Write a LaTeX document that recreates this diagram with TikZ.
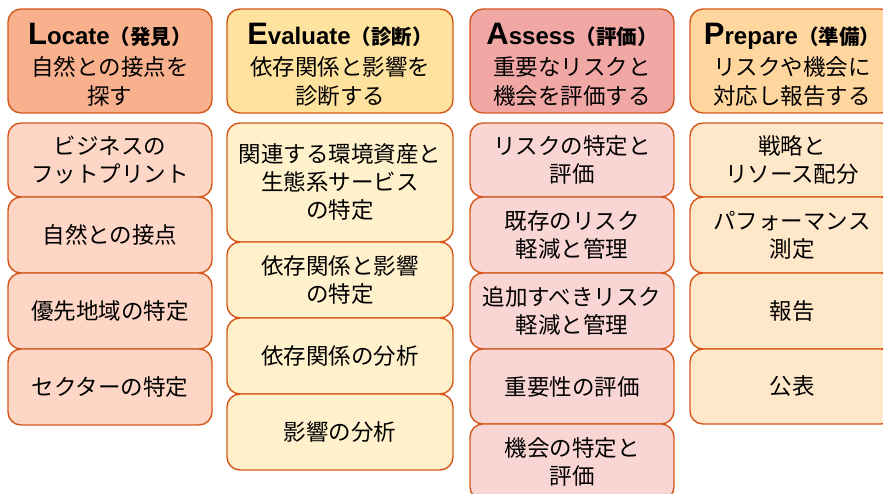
\documentclass[tikz,border=0pt]{standalone}
\usepackage{fontspec}
\setmainfont{Noto Sans CJK JP}
\newfontfamily\lat{Liberation Sans}
\definecolor{bord}{HTML}{D4581C}
\definecolor{hA}{HTML}{F9B18D}
\definecolor{bA}{HTML}{FDD6C5}
\definecolor{hB}{HTML}{FFE29E}
\definecolor{bB}{HTML}{FFF1CC}
\definecolor{hC}{HTML}{F1A8A5}
\definecolor{bC}{HTML}{F9D6D4}
\definecolor{hD}{HTML}{FFD79E}
\definecolor{bD}{HTML}{FFE8C9}
\newcommand\ttl[3]{{\lat\bfseries\fontsize{31}{31}\selectfont #1}{\lat\bfseries\fontsize{24}{24}\selectfont #2}{\bfseries\fontsize{20.5}{20.5}\selectfont （#3）}}
\tikzset{
  cell/.style={draw=bord, line width=1.4pt, rounded corners=13pt, inner sep=0pt,
    align=center, font=\fontsize{22.5}{28}\selectfont},
  hdr/.style={cell, minimum height=104pt},
  htext/.style={inner sep=0pt, align=center, font=\fontsize{22.5}{29}\selectfont},
  wA/.style={minimum width=204pt},
  wB/.style={minimum width=226pt},
}
\begin{document}
\begin{tikzpicture}[x=1pt,y=-1pt]
\useasboundingbox (0,0) rectangle (883,494);
\clip (0,0) rectangle (883,494);
% column 1
\node[hdr,wA,fill=hA] (hL) at (110,61) {};
\node[htext] (hLt) at ([yshift=-4pt]hL.center) {\ttl{L}{ocate}{発見}\\[2pt]自然との接点を\\探す};
\node[cell,wA,fill=bA,minimum height=74pt] (l1) at (110,160) {ビジネスの\\フットプリント};
\node[cell,wA,fill=bA,minimum height=76pt] (l2) at (110,235) {自然との接点};
\node[cell,wA,fill=bA,minimum height=76pt] (l3) at (110,311) {優先地域の特定};
\node[cell,wA,fill=bA,minimum height=76pt] (l4) at (110,387) {セクターの特定};
% column 2
\node[hdr,wB,fill=hB] (hE) at (340,61) {};
\node[htext] (hEt) at ([yshift=-4pt]hE.center) {\ttl{E}{valuate}{診断}\\[2pt]依存関係と影響を\\診断する};
\node[cell,wB,fill=bB,minimum height=119pt] (e1) at (340,182.5) {関連する環境資産と\\生態系サービス\\の特定};
\node[cell,wB,fill=bB,minimum height=76pt] (e2) at (340,280) {依存関係と影響\\の特定};
\node[cell,wB,fill=bB,minimum height=76pt] (e3) at (340,356) {依存関係の分析};
\node[cell,wB,fill=bB,minimum height=76pt] (e4) at (340,432) {影響の分析};
% column 3
\node[hdr,wA,fill=hC] (hA) at (572,61) {};
\node[htext] (hAt) at ([yshift=-4pt]hA.center) {\ttl{A}{ssess}{評価}\\[2pt]重要なリスクと\\機会を評価する};
\node[cell,wA,fill=bC,minimum height=74pt] (a1) at (572,160) {リスクの特定と\\評価};
\node[cell,wA,fill=bC,minimum height=76pt] (a2) at (572,235) {既存のリスク\\軽減と管理};
\node[cell,wA,fill=bC,minimum height=76pt] (a3) at (572,311) {追加すべきリスク\\軽減と管理};
\node[cell,wA,fill=bC,minimum height=75pt] (a4) at (572,386.5) {重要性の評価};
\node[cell,wA,fill=bC,minimum height=76pt] (a5) at (572,462) {機会の特定と\\評価};
% column 4
\node[hdr,wA,fill=hD] (hP) at (792,61) {};
\node[htext] (hPt) at ([yshift=-4pt]hP.center) {\ttl{P}{repare}{準備}\\[2pt]リスクや機会に\\対応し報告する};
\node[cell,wA,fill=bD,minimum height=74pt] (p1) at (792,160) {戦略と\\リソース配分};
\node[cell,wA,fill=bD,minimum height=76pt] (p2) at (792,235) {パフォーマンス\\測定};
\node[cell,wA,fill=bD,minimum height=76pt] (p3) at (792,311) {報告};
\node[cell,wA,fill=bD,minimum height=75pt] (p4) at (792,386.5) {公表};
\end{tikzpicture}
\end{document}
